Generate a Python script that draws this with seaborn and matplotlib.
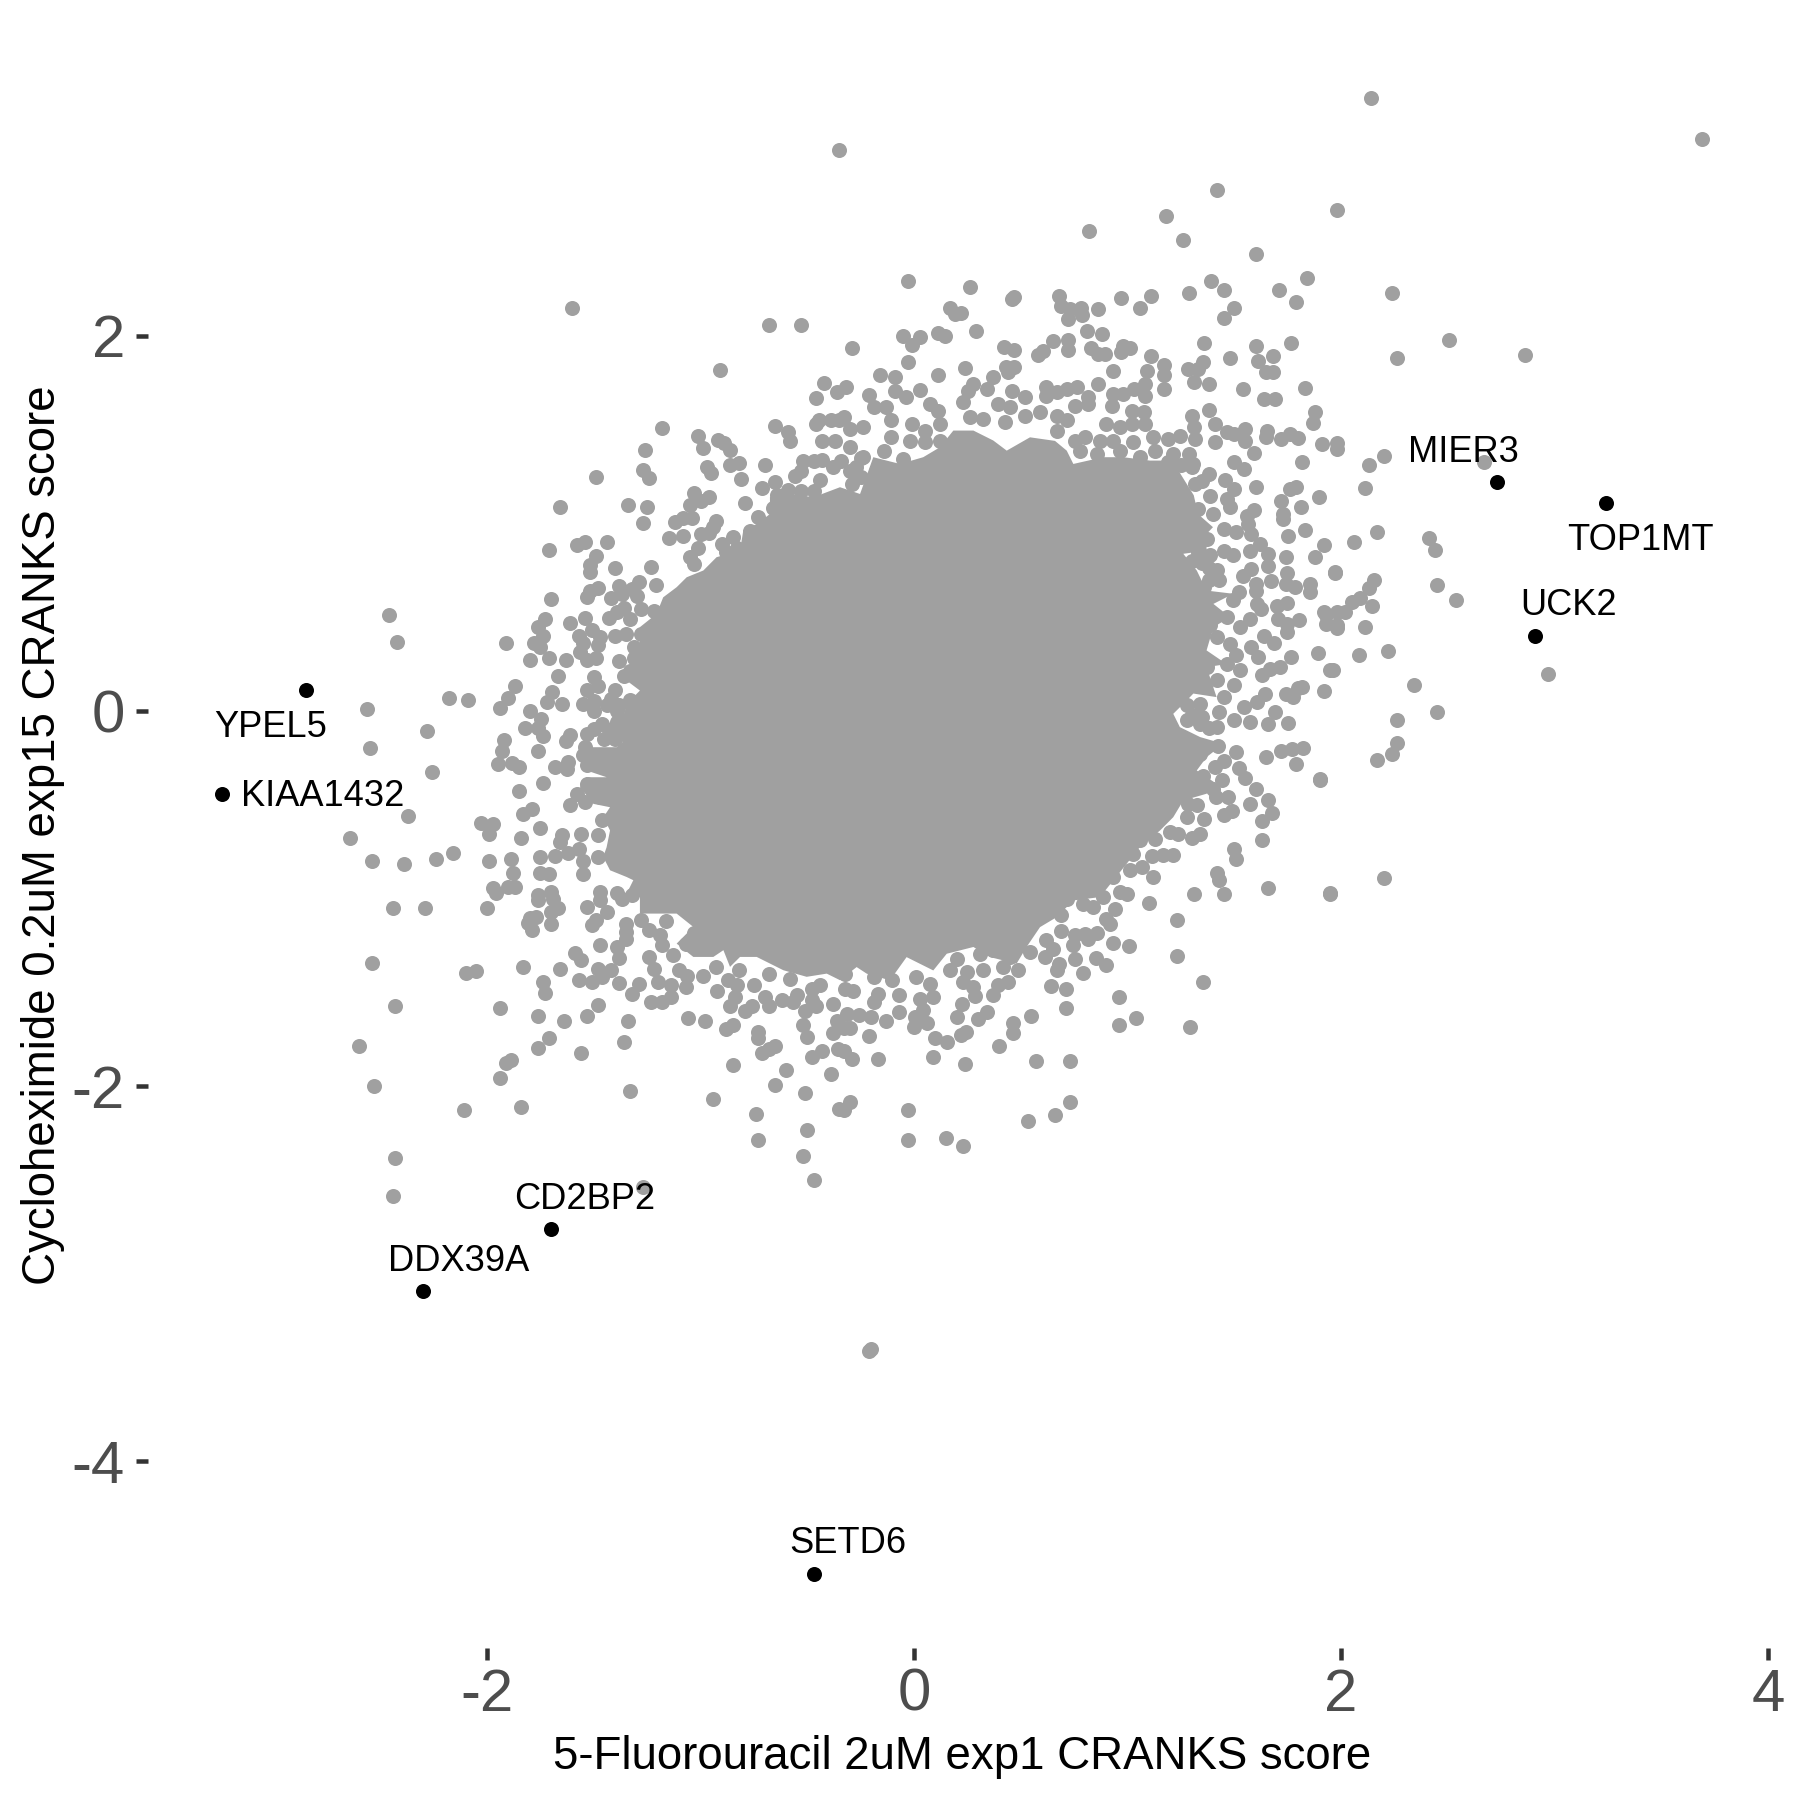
import matplotlib
matplotlib.use("Agg")
import matplotlib.pyplot as plt
import numpy as np
import seaborn as sns

# genes called out in black
gene_names = ["YPEL5", "KIAA1432", "MIER3", "TOP1MT", "UCK2", "CD2BP2", "DDX39A", "SETD6"]
gene_x = [-2.85, -3.24, 2.73, 3.24, 2.91, -1.70, -2.30, -0.47]
gene_y = [0.11, -0.44, 1.22, 1.11, 0.40, -2.76, -3.09, -4.60]
label_offsets = [(-8.3, -9.0), (24.2, -0.8), (-8, 7.2), (8.3, -9.0), (8, 7.2), (8, 6.9), (8.5, 6.9), (8.3, 7.2)]

x_ticks = [-2, 0, 2, 4]
y_ticks = [-4, -2, 0, 2]

# outline of the part where the points overlap into a solid mass
core_outline = [
    (-0.347, 1.193), (-0.47, 1.14), (-0.597, 1.157), (-0.675, 1.14), (-0.675, 1.05), (-0.737, 0.997), (-0.80, 0.962),
    (-0.815, 0.855), (-0.925, 0.82), (-0.987, 0.749), (-1.065, 0.713), (-1.112, 0.66), (-1.175, 0.606), (-1.206, 0.518),
    (-1.284, 0.447), (-1.284, 0.358), (-1.315, 0.251), (-1.346, 0.162), (-1.284, 0.109), (-1.346, 0.038), (-1.362, -0.033),
    (-1.284, -0.086), (-1.393, -0.193), (-1.518, -0.193), (-1.565, -0.228), (-1.534, -0.317), (-1.44, -0.353), (-1.534, -0.353),
    (-1.565, -0.406), (-1.502, -0.495), (-1.424, -0.513), (-1.455, -0.566), (-1.424, -0.637), (-1.44, -0.726), (-1.456, -0.778),
    (-1.424, -0.849), (-1.346, -0.885), (-1.315, -0.902), (-1.346, -0.973), (-1.284, -0.991), (-1.284, -1.08), (-1.19, -1.08),
    (-1.112, -1.08), (-1.034, -1.151), (-1.112, -1.24), (-1.034, -1.311), (-0.94, -1.311), (-0.893, -1.275), (-0.862, -1.364),
    (-0.815, -1.311), (-0.737, -1.311), (-0.612, -1.382), (-0.503, -1.417), (-0.409, -1.40), (-0.347, -1.435), (-0.269, -1.365),
    (-0.222, -1.40), (-0.113, -1.436), (-0.035, -1.312), (0.09, -1.383), (0.153, -1.294), (0.278, -1.258), (0.356, -1.312),
    (0.48, -1.347), (0.527, -1.258), (0.59, -1.152), (0.668, -1.099), (0.746, -1.01), (0.871, -0.992), (0.933, -0.903),
    (0.996, -0.814), (1.058, -0.725), (1.152, -0.637), (1.214, -0.566), (1.261, -0.477), (1.37, -0.441), (1.417, -0.388),
    (1.324, -0.317), (1.37, -0.246), (1.449, -0.175), (1.34, -0.139), (1.245, -0.086), (1.214, -0.015), (1.277, 0.056),
    (1.308, 0.093), (1.417, 0.074), (1.37, 0.234), (1.464, 0.25), (1.37, 0.323), (1.402, 0.447), (1.48, 0.50), (1.402, 0.571),
    (1.495, 0.625), (1.37, 0.642), (1.324, 0.749), (1.261, 0.838), (1.37, 0.855), (1.37, 0.944), (1.40, 0.98), (1.33, 1.05),
    (1.31, 1.15), (1.25, 1.26), (1.214, 1.335), (1.105, 1.335), (0.98, 1.353), (0.886, 1.353), (0.746, 1.317),
    (0.715, 1.388), (0.66, 1.44), (0.543, 1.459), (0.434, 1.388), (0.371, 1.442), (0.278, 1.495), (0.184, 1.495), (0.121, 1.406),
    (0.043, 1.353), (-0.066, 1.317), (-0.191, 1.353), (-0.253, 1.157),
]

# points read into the notches of that outline
points_notches = [
    (-1.36, -0.10), (-1.31, -0.08), (-1.39, -0.06), (-1.35, -0.05), (-1.43, -0.10), (-1.40, -0.15), (-1.45, -0.15), (-1.34, -0.14),
    (-1.39, 0.0), (-1.33, 0.06), (-1.38, 0.03), (-1.44, 0.03), (1.30, 1.30), (1.25, 1.31), (1.19, 1.33), (1.33, 0.85), (1.35, 0.79),
    (1.38, 0.76), (1.42, 0.75), (1.43, 0.70), (1.38, 0.70), (1.30, 0.80), (1.36, 0.66), (1.30, -0.02), (1.35, -0.03), (1.38, -0.09),
    (1.28, 0.03), (1.34, 0.04), (-1.24, -1.17), (-1.16, -1.12), (-0.82, -1.38), (-0.68, -1.40), (-0.58, -1.43), (-0.27, 1.30),
    (-0.18, 1.28), (-0.12, 1.25), (-0.25, 1.35),
]

# upper left
points_upper_left = [
    (-1.18, 1.51), (-1.49, 1.25), (-1.66, 1.09), (-1.26, 1.39), (-1.27, 1.285), (-1.24, 1.24), (-1.01, 1.465),
    (-0.99, 1.40), (-0.92, 1.445), (-0.89, 1.43), (-0.86, 1.39), (-0.97, 1.30), (-0.95, 1.27), (-0.86, 1.31),
    (-0.82, 1.32), (-0.81, 1.235), (-0.70, 1.31), (-0.65, 1.52), (-0.59, 1.49), (-0.58, 1.44), (-0.46, 1.67),
    (-0.42, 1.75), (-0.36, 1.70), (-0.46, 1.53), (-0.445, 1.55), (-0.39, 1.55), (-0.35, 1.55), (-0.43, 1.44),
    (-0.37, 1.44), (-0.52, 1.335), (-0.47, 1.335), (-0.43, 1.34), (-0.53, 1.28), (-0.56, 1.255), (-0.38, 1.30),
    (-0.44, 1.23), (-0.71, 1.19), (-0.65, 1.22), (-0.59, 1.18), (-0.53, 1.175), (-0.64, 1.15), (-0.66, 1.08),
    (-0.61, 1.12), (-0.47, 1.175), (-0.79, 1.11), (-1.03, 1.16), (-1.05, 1.10), (-0.96, 1.14), (-1.0, 1.12),
    (-1.34, 1.10), (-1.25, 1.085), (-1.27, 1.00), (-1.12, 1.01), (-1.08, 1.03), (-1.04, 1.03), (-1.15, 0.92),
    (-1.08, 0.935), (-0.93, 1.015), (-0.94, 0.98), (-1.0, 0.945), (-0.96, 0.95), (-1.01, 0.87), (-1.05, 0.82),
    (-1.03, 0.785), (-0.73, 1.035), (-0.77, 0.96), (-0.85, 0.93), (-0.90, 0.89), (-0.88, 0.845), (-0.83, 0.87),
    (-0.675, 0.997), (-0.60, 1.015), (-1.71, 0.86), (-1.58, 0.885), (-1.54, 0.90), (-1.44, 0.90), (-1.49, 0.825),
    (-1.52, 0.78), (-1.52, 0.74), (-1.40, 0.765), (-1.23, 0.77), (-1.21, 0.67), (-1.29, 0.69), (-1.38, 0.665),
    (-1.32, 0.65), (-1.30, 0.615), (-1.48, 0.655), (-1.52, 0.64), (-1.53, 0.61), (-1.70, 0.595), (-1.42, 0.60),
    (-1.37, 0.625), (-1.36, 0.55), (-1.39, 0.53), (-1.43, 0.495), (-1.33, 0.49), (-1.28, 0.545), (-1.22, 0.535),
    (-1.73, 0.49), (-1.76, 0.45), (-1.61, 0.47), (-1.54, 0.495), (-1.51, 0.43), (-1.57, 0.40), (-1.74, 0.40),
    (-1.47, 0.395), (-1.91, 0.365), (-1.78, 0.365), (-1.75, 0.34), (-1.48, 0.35), (-1.40, 0.40), (-1.35, 0.41),
    (-1.28, 0.41), (-1.55, 0.36), (-1.565, 0.315), (-1.80, 0.27), (-1.71, 0.28), (-1.63, 0.27), (-1.53, 0.27),
    (-1.49, 0.28), (-1.31, 0.34), (-1.38, 0.265), (-1.31, 0.28), (-1.23, 0.25), (-1.16, 0.32), (-1.67, 0.185),
    (-1.33, 0.215), (-1.36, 0.185), (-1.50, 0.18), (-1.48, 0.135), (-1.87, 0.135), (-1.90, 0.07), (-1.94, 0.015),
    (-1.53, 0.11), (-1.40, 0.11), (-1.695, 0.10), (-1.72, 0.05), (-1.65, 0.04), (-1.42, 0.065), (-1.50, 0.055),
    (-1.55, 0.04), (-1.50, 0.0), (-2.18, 0.07), (-2.09, 0.06), (-2.56, 0.01), (-2.46, 0.51), (-2.42, 0.37),
]

# middle left
points_left = [
    (-1.80, 0.0), (-1.745, -0.04), (-1.82, -0.09), (-1.76, -0.09), (-1.74, -0.135), (-2.28, -0.105), (-2.55, -0.195),
    (-1.92, -0.155), (-1.93, -0.215), (-1.76, -0.215), (-1.61, -0.13), (-1.63, -0.16), (-1.46, -0.07), (-1.50, -0.095),
    (-1.53, -0.12), (-1.42, -0.13), (-1.54, -0.19), (-1.55, -0.235), (-1.95, -0.285), (-1.885, -0.275), (-1.85, -0.30),
    (-1.68, -0.30), (-1.62, -0.27), (-1.625, -0.31), (-1.53, -0.29), (-2.26, -0.325), (-1.74, -0.385), (-1.85, -0.425),
    (-1.53, -0.39), (-1.58, -0.44), (-1.54, -0.485), (-1.61, -0.50), (-1.47, -0.46), (-1.79, -0.52), (-1.83, -0.55),
    (-2.37, -0.56), (-1.46, -0.58), (-2.03, -0.595), (-1.97, -0.605), (-1.99, -0.655), (-1.75, -0.625), (-1.84, -0.675),
    (-2.64, -0.675), (-1.56, -0.655), (-1.65, -0.66), (-1.66, -0.70), (-1.48, -0.66), (-2.16, -0.755), (-2.24, -0.79),
    (-2.54, -0.80), (-2.39, -0.815), (-1.99, -0.80), (-1.89, -0.79), (-1.75, -0.78), (-1.68, -0.775), (-1.62, -0.755),
    (-1.57, -0.735), (-1.55, -0.80), (-1.48, -0.78), (-1.88, -0.865), (-1.75, -0.865), (-1.71, -0.87), (-1.55, -0.87),
]

# lower left
points_lower_left = [
    (-1.97, -0.945), (-1.96, -0.97), (-1.90, -0.94), (-1.87, -0.94), (-2.00, -1.05), (-2.44, -1.05), (-2.29, -1.05),
    (-1.76, -0.98), (-1.76, -1.01), (-1.70, -0.965), (-1.69, -1.0), (-1.67, -1.05), (-1.70, -1.07), (-1.70, -1.136),
    (-1.77, -1.10), (-1.80, -1.105), (-1.81, -1.13), (-1.79, -1.165), (-1.47, -0.965), (-1.39, -0.97), (-1.37, -1.0),
    (-1.32, -0.98), (-1.47, -1.01), (-1.53, -1.045), (-1.44, -1.07), (-1.49, -1.115), (-1.51, -1.14), (-1.35, -1.135),
    (-1.35, -1.18), (-1.35, -1.215), (-1.28, -1.115), (-1.47, -1.25), (-1.39, -1.26), (-1.38, -1.315), (-1.59, -1.29),
    (-1.56, -1.33), (-1.24, -1.31), (-1.22, -1.375), (-1.19, -1.195), (-1.18, -1.245), (-1.13, -1.30), (-1.10, -1.38),
    (-1.07, -1.24), (-1.03, -1.185), (-2.54, -1.345), (-2.10, -1.395), (-2.05, -1.385), (-1.83, -1.365), (-1.66, -1.375),
    (-1.48, -1.375), (-1.42, -1.38), (-1.74, -1.445), (-1.73, -1.505), (-1.57, -1.435), (-1.51, -1.445), (-1.46, -1.417),
    (-1.38, -1.45), (-1.29, -1.455), (-1.32, -1.51), (-1.20, -1.445), (-1.23, -1.55), (-1.18, -1.55), (-1.14, -1.525),
    (-1.14, -1.46), (-1.07, -1.47), (-1.065, -1.41), (-0.99, -1.41), (-0.925, -1.495), (-0.93, -1.365), (-0.87, -1.435),
    (-0.83, -1.46), (-0.84, -1.525), (-0.86, -1.57), (-0.75, -1.46), (-0.76, -1.57), (-0.79, -1.60), (-0.68, -1.575),
    (-0.70, -1.525), (-0.62, -1.54), (-0.565, -1.55), (-0.55, -1.515), (-0.48, -1.48), (-0.44, -1.46), (-0.51, -1.60),
    (-0.46, -1.575), (-0.48, -1.54), (-0.38, -1.56), (-0.36, -1.65), (-0.52, -1.675), (-0.50, -1.74), (-0.38, -1.715),
    (-0.355, -1.80), (-0.43, -1.815), (-0.48, -1.845), (-0.39, -1.935), (-0.51, -2.035), (-0.35, -2.12), (-0.50, -2.235),
    (-0.52, -2.37), (-0.47, -2.50), (-0.74, -2.15), (-0.73, -2.285), (-0.94, -2.07), (-0.85, -1.885), (-1.06, -1.635),
    (-0.98, -1.655), (-0.85, -1.675), (-0.88, -1.695), (-0.73, -1.71), (-0.73, -1.745), (-0.65, -1.785), (-0.68, -1.80),
    (-0.71, -1.825), (-0.60, -1.915), (-0.65, -1.995), (-1.76, -1.625), (-1.94, -1.585), (-2.43, -1.575), (-1.64, -1.655),
    (-1.53, -1.625), (-1.48, -1.565), (-1.34, -1.655), (-1.36, -1.765), (-1.71, -1.745), (-1.76, -1.795), (-1.56, -1.825),
    (-2.60, -1.785), (-1.89, -1.86), (-1.91, -1.875), (-1.94, -1.955), (-2.53, -2.00), (-1.33, -2.025), (-2.11, -2.125),
    (-1.84, -2.11), (-2.43, -2.385), (-2.44, -2.585), (-1.27, -2.535), (-0.20, -3.40), (-0.21, -3.41),
]

# upper right
points_upper_right = [
    (-0.03, 2.29), (0.26, 2.26), (0.457, 2.196), (0.47, 2.205), (0.68, 2.215), (0.69, 2.16), (0.73, 2.143), (0.78, 2.15),
    (0.785, 2.11), (0.72, 2.09), (0.86, 2.145), (0.97, 2.204), (1.06, 2.15), (1.11, 2.21), (1.29, 2.23), (1.39, 2.29),
    (1.45, 2.243), (1.60, 2.436), (1.71, 2.243), (1.84, 2.31), (1.79, 2.18), (1.50, 2.15), (1.45, 2.094), (0.17, 2.15),
    (0.19, 2.117), (0.22, 2.12), (0.29, 2.024), (0.11, 2.015), (0.145, 2.0), (-0.05, 2.0), (0.03, 1.994), (-0.01, 1.95),
    (-0.29, 1.934), (-0.03, 1.862), (-0.16, 1.793), (0.11, 1.793), (0.24, 1.83), (-0.09, 1.78), (0.42, 1.942),
    (0.47, 1.925), (0.58, 1.90), (0.605, 1.92), (0.65, 1.97), (0.72, 1.978), (0.72, 1.925), (0.81, 2.024), (0.88, 2.01),
    (0.83, 1.934), (0.86, 1.904), (0.895, 1.904), (0.98, 1.948), (1.01, 1.934), (0.97, 1.912), (1.11, 1.89), (0.43, 1.836),
    (0.47, 1.836), (0.44, 1.805), (0.93, 1.815), (1.09, 1.815), (1.17, 1.847), (1.17, 1.793), (1.17, 1.715), (0.86, 1.743),
    (1.285, 1.825), (1.355, 1.859), (1.33, 1.825), (1.36, 1.962), (1.48, 1.882), (1.60, 1.944), (1.765, 1.962),
    (1.61, 1.868), (1.68, 1.893), (1.65, 1.806), (1.68, 1.806), (1.31, 1.753), (1.38, 1.742), (1.54, 1.715), (1.83, 1.724),
    (1.64, 1.664), (1.69, 1.664), (1.38, 1.605), (1.30, 1.575), (1.88, 1.594), (1.87, 1.534), (1.815, 1.326), (1.91, 1.424),
    (1.98, 1.429), (1.98, 1.397), (1.655, 1.495), (1.65, 1.46), (1.72, 1.45), (1.76, 1.477), (1.80, 1.454), (1.41, 1.53),
    (1.41, 1.433), (1.465, 1.486), (1.50, 1.477), (1.55, 1.504), (1.55, 1.44), (1.59, 1.376), (1.50, 1.33), (1.545, 1.29),
    (1.455, 1.234), (1.50, 1.184), (1.60, 1.193), (1.76, 1.184), (1.79, 1.196), (1.895, 1.143), (1.72, 1.118), (1.81, 1.09),
    (1.73, 1.05), (1.73, 1.024), (1.83, 0.964), (1.75, 0.934), (1.92, 0.884), (1.88, 0.823), (1.74, 0.823), (1.97, 0.736),
    (1.745, 0.736), (1.855, 0.678), (1.855, 0.633), (1.74, 0.678), (1.785, 0.66), (1.67, 0.695), (1.66, 0.775), (1.66, 0.838),
    (1.62, 0.89), (1.575, 0.855), (1.59, 1.07), (1.56, 1.04), (1.565, 0.997), (1.465, 1.13), (1.48, 1.086), (1.45, 0.97),
    (1.51, 0.953), (1.58, 0.945), (1.495, 0.834), (1.58, 0.758), (1.54, 0.722), (1.60, 0.678), (1.60, 0.642), (1.52, 0.634),
    (1.605, 0.57), (1.625, 0.545), (1.575, 0.49), (1.70, 0.562), (1.745, 0.575), (1.705, 0.49), (1.745, 0.465), (1.745, 0.42),
    (1.805, 0.486), (1.92, 0.527), (1.93, 0.465), (1.98, 0.527), (1.98, 0.456), (1.64, 0.40), (1.685, 0.363), (1.58, 0.34),
    (1.61, 0.287), (1.765, 0.287), (1.48, 0.358), (1.51, 0.296), (1.95, 0.216), (1.715, 0.237), (1.667, 0.225), (1.63, 0.19),
    (1.815, 0.127), (1.777, 0.074), (1.92, 0.104), (1.645, 0.092), (1.605, 0.047), (1.545, 0.02), (1.45, 0.074), (1.69, -0.006),
    (1.66, -0.068), (1.575, -0.056), (1.753, -0.065), (1.50, -0.05), (1.43, -0.006), (1.417, -0.086), (1.34, -0.068), (1.277, -0.05),
]

# band along the top edge of the solid mass
points_top_band = [
    (-0.32, 1.726), (-0.21, 1.685), (0.03, 1.713), (-0.09, 1.708), (-0.04, 1.672), (-0.19, 1.62), (-0.13, 1.62), (-0.11, 1.55),
    (0.075, 1.637), (0.114, 1.60), (-0.01, 1.53), (0.05, 1.495), (0.12, 1.53), (-0.33, 1.565), (-0.30, 1.504), (-0.24, 1.513),
    (0.23, 1.646), (0.254, 1.708), (0.277, 1.744), (0.34, 1.717), (0.37, 1.78), (0.395, 1.637), (0.45, 1.62), (0.457, 1.708),
    (0.52, 1.676), (0.62, 1.726), (0.62, 1.68), (0.668, 1.70), (0.715, 1.717), (0.765, 1.726), (0.816, 1.672), (0.816, 1.637),
    (0.754, 1.628), (0.262, 1.566), (0.324, 1.557), (0.426, 1.54), (0.52, 1.575), (0.59, 1.593), (0.668, 1.575), (0.715, 1.55),
    (0.668, 1.495), (0.90, 1.53), (0.93, 1.69), (0.925, 1.628), (0.98, 1.69), (1.03, 1.717), (1.08, 1.743), (1.08, 1.68),
    (1.02, 1.60), (1.075, 1.593), (1.08, 1.53), (1.02, 1.53), (0.965, 1.513), (1.12, 1.459), (1.19, 1.45), (1.245, 1.468),
    (1.31, 1.513), (1.316, 1.45), (1.29, 1.37), (1.308, 1.317), (1.128, 1.388), (1.214, 1.37), (0.754, 1.44), (0.80, 1.46),
    (0.87, 1.44), (0.933, 1.44), (1.027, 1.433), (0.777, 1.388), (0.855, 1.37), (0.965, 1.388), (1.058, 1.353), (1.38, 1.264),
    (1.347, 1.228), (1.316, 1.21), (1.386, 1.148), (1.40, 1.05), (1.33, 1.077), (1.29, 1.0), (1.37, 0.918), (1.45, 0.855),
    (1.386, 0.829), (1.495, 0.59), (1.464, 0.50), (1.386, 0.456), (1.417, 0.394), (1.527, 0.447), (1.464, 0.25), (1.37, 0.234),
    (1.527, 0.216), (1.417, 0.163), (1.50, 0.136), (1.363, 0.57), (-0.34, 1.335), (-0.30, 1.406), (-0.24, 1.353), (-0.30, 1.28),
    (-0.25, 1.246), (-0.29, 1.21), (-0.2, 1.19), (-0.14, 1.388), (-0.11, 1.46), (-0.02, 1.44), (0.05, 1.433), (-0.05, 1.344),
    (-0.08, 1.246), (-0.02, 1.246), (0.12, 1.44),
]

# lower right
points_lower_right = [
    (1.51, -0.22), (1.65, -0.246), (1.72, -0.214), (1.77, -0.20), (1.82, -0.195), (1.79, -0.283), (1.90, -0.365), (1.52, -0.305),
    (1.55, -0.358), (1.60, -0.415), (1.66, -0.473), (1.675, -0.544), (1.63, -0.585), (1.575, -0.495), (1.49, -0.534), (1.45, -0.557),
    (1.47, -0.456), (1.415, -0.459), (1.44, -0.37), (1.45, -0.269), (1.41, -0.30), (1.425, -0.184), (1.36, -0.575), (1.34, -0.654),
    (1.30, -0.676), (1.63, -0.685), (1.50, -0.734), (1.51, -0.788), (1.42, -0.862), (1.43, -0.90), (1.31, -0.974), (1.45, -0.974),
    (1.66, -0.944), (1.95, -0.974), (1.214, -0.77), (1.168, -0.77), (1.113, -0.775), (1.12, -0.885), (1.066, -0.832), (1.01, -0.85),
    (1.10, -1.024), (0.996, -0.974), (0.965, -0.965), (0.94, -1.054), (0.90, -1.107), (0.92, -1.134), (0.855, -1.182), (0.816, -1.214),
    (0.80, -1.187), (0.754, -1.196), (0.746, -1.25), (0.69, -1.173), (0.69, -1.09), (0.62, -1.223), (0.65, -1.267), (0.613, -1.312),
    (0.543, -1.285), (0.933, -1.235), (1.007, -1.253), (0.852, -1.315), (0.90, -1.356), (0.754, -1.32), (0.793, -1.395), (0.68, -1.347),
    (0.67, -1.383), (1.233, -1.115), (1.233, -1.305), (1.353, -1.445), (1.293, -1.685), (1.04, -1.635), (0.96, -1.523), (0.96, -1.674),
    (0.71, -1.484), (0.71, -1.583), (0.64, -1.465), (0.488, -1.383), (0.44, -1.445), (0.395, -1.463), (0.371, -1.516), (0.285, -1.52),
    (0.223, -1.564), (0.203, -1.631), (0.34, -1.605), (0.298, -1.644), (0.55, -1.628), (0.462, -1.662), (0.462, -1.715), (0.40, -1.784),
    (0.243, -1.711), (0.218, -1.725), (0.153, -1.765), (0.10, -1.743), (0.09, -1.845), (0.24, -1.884), (0.573, -1.864), (0.732, -1.864),
    (0.732, -2.084), (0.662, -2.154), (0.532, -2.184), (-0.03, -2.125), (-0.03, -2.285), (0.15, -2.274), (0.23, -2.319), (-0.30, -2.084),
    (-0.33, -2.125), (-0.17, -1.855), (-0.29, -1.855), (-0.33, -1.81), (-0.21, -1.735), (-0.13, -1.655), (-0.07, -1.605), (-0.20, -1.63),
    (-0.26, -1.62), (-0.30, -1.69), (-0.33, -1.69), (-0.315, -1.614), (0.06, -1.663), (0.0, -1.685), (0.005, -1.63), (0.043, -1.596),
    (0.028, -1.534), (0.09, -1.525), (-0.07, -1.516), (-0.19, -1.55), (-0.167, -1.507), (-0.285, -1.49), (-0.324, -1.48), (-0.324, -1.40),
    (-0.19, -1.418), (-0.105, -1.436), (0.01, -1.418), (0.075, -1.454), (0.168, -1.383), (0.246, -1.392), (0.23, -1.445), (0.278, -1.47),
    (0.324, -1.383), (0.418, -1.365), (0.309, -1.294), (0.20, -1.32), (0.37, -1.276), (0.45, -1.312), (1.198, -0.645), (1.238, -0.654),
    (1.277, -0.566), (1.285, -0.495), (1.323, -0.50), (1.128, -0.68), (1.06, -0.69), (1.027, -0.76), (1.355, -0.344), (1.40, -0.415),
    (0.933, -0.885), (0.887, -0.992), (0.793, -1.027), (0.84, -1.045), (0.715, -1.0), (0.62, -1.0), (1.34, -0.228),
]

# isolated points far from the mass
points_outliers = [
    (2.14, 3.27), (3.69, 3.05), (-0.35, 2.99), (1.42, 2.78), (1.98, 2.67), (1.18, 2.64), (0.82, 2.56), (1.26, 2.51), (-1.60, 2.15),
    (-0.68, 2.06), (-0.53, 2.06), (-0.91, 1.82), (2.24, 2.23), (2.505, 1.98), (2.26, 1.88), (2.86, 1.90), (2.13, 1.31), (2.2, 1.36),
    (2.11, 1.19), (2.67, 1.33), (2.17, 0.955), (2.41, 0.92), (2.44, 0.86), (2.45, 0.67), (2.54, 0.59), (2.97, 0.195), (2.06, 0.90),
    (1.97, 0.74), (2.155, 0.70), (2.13, 0.655), (2.09, 0.605), (2.05, 0.58), (2.02, 0.53), (2.145, 0.56), (1.93, 0.51), (1.98, 0.44),
    (2.11, 0.45), (2.22, 0.32), (2.085, 0.30), (1.96, 0.22), (2.34, 0.14), (2.45, -0.005), (2.26, -0.05), (2.26, -0.17), (2.24, -0.23),
    (2.17, -0.26), (1.90, -0.37), (2.20, -0.89), (1.95, -0.97), (1.89, 0.31), (1.80, 0.12), (1.74, 0.09),
]

grey_points = np.array(
    points_notches
    + points_upper_left
    + points_left
    + points_lower_left
    + points_upper_right
    + points_top_band
    + points_lower_right
    + points_outliers
)
core = np.array(core_outline)

sns.set_theme(style="white")
plt.rcParams["font.family"] = ["Liberation Sans", "DejaVu Sans"]
plt.rcParams["axes.unicode_minus"] = False

fig = plt.figure(figsize=(6, 6), dpi=300)
ax = fig.add_axes([148 / 1800, 1 - 1648 / 1800, (1776 - 148) / 1800, (1648 - 22) / 1800])

ax.fill(core[:, 0], core[:, 1], color="#A0A0A0", linewidth=0, zorder=1)
sns.scatterplot(x=grey_points[:, 0], y=grey_points[:, 1], color="#A0A0A0", s=13, linewidth=0, ax=ax, zorder=2)
sns.scatterplot(x=gene_x, y=gene_y, color="black", s=13, linewidth=0, ax=ax, zorder=3)

for name, gx, gy, offset in zip(gene_names, gene_x, gene_y, label_offsets):
    ax.annotate(
        name,
        (gx, gy),
        xytext=offset,
        textcoords="offset points",
        ha="center",
        va="center",
        fontsize=8.7,
        color="black",
        zorder=4,
    )

ax.set_xlim(-3.588, 4.037)
ax.set_ylim(-4.995, 3.673)
ax.set_xticks(x_ticks)
ax.set_yticks(y_ticks)
ax.tick_params(axis="both", length=2.9, width=1.08, color="#333333", labelcolor="#4D4D4D", labelsize=14.4, bottom=True, left=True)
ax.tick_params(axis="x", pad=1.8)
ax.tick_params(axis="y", pad=2.6)
ax.set_xlabel("5-Fluorouracil 2uM exp1 CRANKS score", fontsize=10.95, color="black", va="center")
ax.set_ylabel("Cycloheximide 0.2uM exp15 CRANKS score", fontsize=10.95, color="black", va="center")
ax.xaxis.set_label_coords(0.5, -0.067)
ax.yaxis.set_label_coords(-0.0642, 0.5)
sns.despine(ax=ax, left=True, bottom=True)

fig.savefig("out.png", dpi=300, facecolor="white")
